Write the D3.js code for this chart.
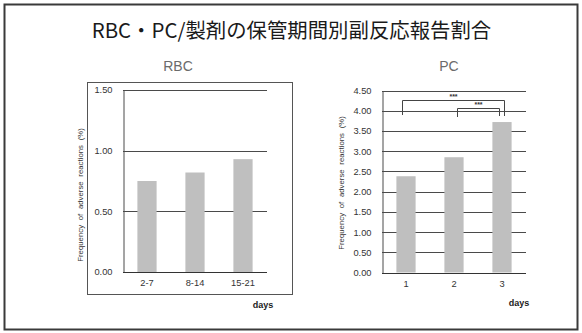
<!DOCTYPE html>
<html>
<head>
<meta charset="utf-8">
<script src="https://cdn.jsdelivr.net/npm/d3@7"></script>
<style>
  html, body { margin: 0; padding: 0; background: #fff; }
  svg { display: block; }
</style>
</head>
<body>
<svg id="chart" width="582" height="333"></svg>
<script>
// Report rate of adverse reactions by storage period
const mainTitle = "RBC・PC/製剤の保管期間別副反応報告割合";

const rbcCategories = ["2-7", "8-14", "15-21"];
const rbcValues = [0.75, 0.82, 0.93];
const rbcTicks = [0, 0.5, 1.0, 1.5];

const pcCategories = ["1", "2", "3"];
const pcValues = [2.38, 2.85, 3.72];
const pcTicks = [0, 0.5, 1.0, 1.5, 2.0, 2.5, 3.0, 3.5, 4.0, 4.5];

// significance brackets for PC: [from category, to category, label]
const pcBrackets = [["1", "3", "***"], ["2", "3", "***"]];

const yTitle = "Frequency of adverse reactions (%)";
const xTitle = "days";

const svg = d3.select("#chart");
const sansFont = "'Liberation Sans', Arial, sans-serif";

// outer frame
svg.append("rect")
  .attr("x", 4.5).attr("y", 4.5)
  .attr("width", 573).attr("height", 325)
  .attr("fill", "none").attr("stroke", "#3a3a3a").attr("stroke-width", 2);

svg.append("text")
  .attr("x", 291.5).attr("y", 37.5)
  .attr("text-anchor", "middle")
  .attr("font-family", "'Noto Sans CJK JP', sans-serif")
  .attr("font-size", 20.4)
  .attr("fill", "#1a1a1a")
  .text(mainTitle);

function drawPanel(opts) {
  const g = svg.append("g");
  const { left, right, top, bottom } = opts;

  const x = d3.scaleBand()
    .domain(opts.categories)
    .range([left, right])
    .paddingInner(0.6)
    .paddingOuter(0.3);
  const y = d3.scaleLinear()
    .domain([0, opts.max])
    .range([bottom, top]);

  if (opts.box) {
    g.append("rect")
      .attr("x", opts.box[0] + 0.5).attr("y", opts.box[1] + 0.5)
      .attr("width", opts.box[2] - opts.box[0]).attr("height", opts.box[3] - opts.box[1])
      .attr("fill", "none").attr("stroke", "#555").attr("stroke-width", 1);
  }

  // subtitle
  g.append("text")
    .attr("x", opts.titleX).attr("y", 71)
    .attr("text-anchor", "middle")
    .attr("font-family", sansFont)
    .attr("font-size", 14)
    .attr("fill", "#6b6b6b")
    .text(opts.title);

  // horizontal gridlines
  g.append("g").selectAll("line")
    .data(opts.ticks.filter(d => d > 0))
    .join("line")
    .attr("x1", left).attr("x2", right)
    .attr("y1", d => Math.round(y(d)) + 0.5).attr("y2", d => Math.round(y(d)) + 0.5)
    .attr("stroke", "#4a4a4a").attr("stroke-width", 1);

  // bars
  g.append("g").selectAll("rect")
    .data(opts.values)
    .join("rect")
    .attr("x", (d, i) => x(opts.categories[i]))
    .attr("width", x.bandwidth())
    .attr("y", d => y(d))
    .attr("height", d => y(0) - y(d))
    .attr("fill", "#bfbfbf");

  // y axis
  const yAxis = d3.axisLeft(y).tickValues(opts.ticks).tickSize(0).tickPadding(11)
    .tickFormat(d3.format(".2f"));
  const ya = g.append("g").attr("transform", `translate(${left + 0.5},0)`).call(yAxis);
  ya.select(".domain").attr("stroke", "#4a4a4a");
  ya.selectAll("text")
    .attr("font-family", sansFont).attr("font-size", 9.3).attr("fill", "#333");

  // x axis
  const xAxis = d3.axisBottom(x).tickSize(0).tickPadding(7);
  const xa = g.append("g").attr("transform", `translate(0,${Math.round(bottom) + 0.5})`).call(xAxis);
  xa.select(".domain").attr("stroke", "#333").attr("d", `M${left},0H${right}`);
  xa.selectAll("text")
    .attr("font-family", sansFont).attr("font-size", 9.3).attr("fill", "#333");

  // axis titles
  g.append("text")
    .attr("transform", `translate(${opts.yTitleX},${opts.yTitleY}) rotate(-90)`)
    .attr("text-anchor", "middle")
    .attr("font-family", sansFont)
    .attr("font-size", 7.8)
    .attr("word-spacing", 2.5)
    .attr("fill", "#333")
    .text(yTitle);

  g.append("text")
    .attr("x", opts.daysX).attr("y", opts.daysY)
    .attr("text-anchor", "middle")
    .attr("font-family", sansFont)
    .attr("font-size", 9)
    .attr("font-weight", "bold")
    .attr("fill", "#222")
    .text(xTitle);

  return { g, x, y };
}

drawPanel({
  title: "RBC", titleX: 178,
  categories: rbcCategories, values: rbcValues, ticks: rbcTicks, max: 1.5,
  left: 123, right: 267, top: 90, bottom: 272,
  box: [87, 82, 292, 294],
  yTitleX: 83, yTitleY: 195,
  daysX: 263, daysY: 308
});

const pc = drawPanel({
  title: "PC", titleX: 449,
  categories: pcCategories, values: pcValues, ticks: pcTicks, max: 4.5,
  left: 382, right: 526, top: 90.5, bottom: 272.5,
  yTitleX: 344, yTitleY: 183,
  daysX: 519, daysY: 306
});

// significance brackets above the PC bars
const bracketSpec = [
  { top: 100.5, leftEnd: 115, rightEnd: 116, dx1: -4, dx2: 2, labelY: 99 },
  { top: 108.5, leftEnd: 117, rightEnd: 116, dx1: 3, dx2: -3, labelY: 107 }
];
pcBrackets.forEach((b, i) => {
  const s = bracketSpec[i];
  const x1 = Math.round(pc.x(b[0]) + pc.x.bandwidth() / 2 + s.dx1) + 0.5;
  const x2 = Math.round(pc.x(b[1]) + pc.x.bandwidth() / 2 + s.dx2) + 0.5;
  pc.g.append("path")
    .attr("d", `M${x1},${s.leftEnd}V${s.top}H${x2}V${s.rightEnd}`)
    .attr("fill", "none").attr("stroke", "#444").attr("stroke-width", 1);
  pc.g.append("text")
    .attr("x", (x1 + x2) / 2).attr("y", s.labelY)
    .attr("text-anchor", "middle")
    .attr("font-family", sansFont)
    .attr("font-size", 7)
    .attr("font-weight", "bold")
    .attr("fill", "#333")
    .text(b[2]);
});
</script>
</body>
</html>
